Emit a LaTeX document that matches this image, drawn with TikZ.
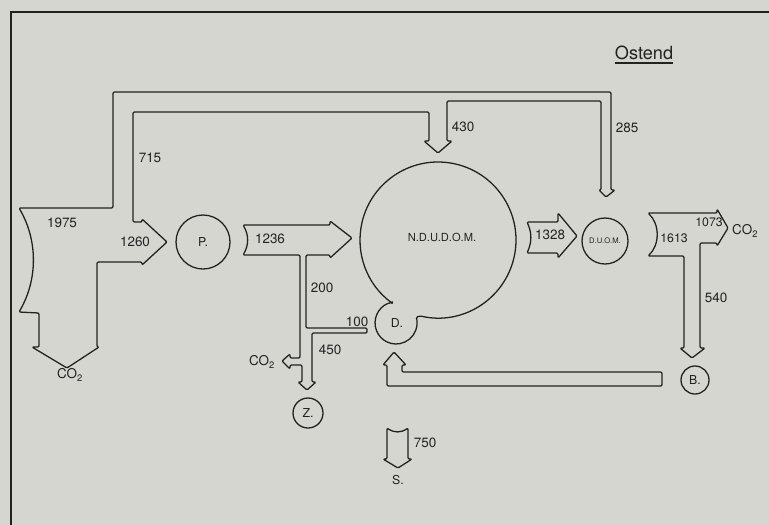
\documentclass[tikz,border=0pt]{standalone}
\usepackage{fontspec}
\setmainfont{TeX Gyre Heros}
\usetikzlibrary{positioning}
\definecolor{paper}{RGB}{214,214,208}
\definecolor{ink}{RGB}{34,34,34}

\begin{document}
\begin{tikzpicture}[x=0.03cm, y=-0.03cm,
    flow/.style={draw=ink, line width=1.1pt, line join=round, rounded corners=1pt},
    lab/.style={font=\fontsize{11.5}{13}\selectfont, text=ink, inner sep=0pt},
    pool/.style={circle, draw=ink, line width=1.1pt, inner sep=0pt, text=ink, font=\fontsize{10.5}{12}\selectfont}]
    % page, frame and site name
    \useasboundingbox (0,0) rectangle (769,524);
    \fill[paper] (-20,-20) rectangle (790,545);
    \draw[ink, line width=2.4pt] (11,545) -- (11,12) -- (790,12);
    \node[lab, font=\fontsize{15.5}{17}\selectfont] (title) at (644,53) {Ostend};
    \draw[ink, line width=1.3pt] ([yshift=-2.5pt]title.south west) -- ([yshift=-2.5pt]title.south east);
    % intake 1975: on to P., down to CO2, and the 715 loop over the top
    \draw[flow] (19,312) .. controls (38,280) and (38,240) .. (19,208)
      -- (113,208) -- (113,92) -- (611,92) -- (611,190) -- (615,190) -- (606,197)
      -- (599,190) -- (601,190) -- (601,101) -- (447,101) -- (447,141) -- (452,141)
      -- (438,153) -- (424,141) -- (429,141) -- (429,112) -- (133,112) -- (133,222)
      -- (142,222) -- (142,219) -- (167,242) -- (142,265) -- (142,262) -- (97,262)
      -- (97,347) -- (99,347) -- (67,368) -- (32,347) -- (39,347) -- (39,313) -- cycle;
    % 1236 into N.D.U.D.O.M., branch down to Z. and CO2
    \draw[flow] (243,255) .. controls (249,245) and (249,235) .. (243,225)
      -- (330,225) -- (330,221) -- (352,238) -- (330,258) -- (330,255) -- (306,255)
      -- (306,328) -- (367,328) -- (367,333) -- (312,333) -- (312,382) -- (316,382)
      -- (307,390) -- (298,382) -- (302,382) -- (302,365) -- (290,365) -- (290,369)
      -- (282,361) -- (290,354) -- (290,358) -- (300,358) -- (300,255) -- cycle;
    % N.D.U.D.O.M. with D. hanging below
    \draw[flow] (420.45,316) arc[start angle=103, end angle=-234, radius=78]
      -- (392.4,302.3) arc[start angle=-100, end angle=-376, radius=21] -- cycle;
    % 1328 and 1613
    \draw[flow] (527,253) .. controls (532,242) and (532,233) .. (527,222)
      -- (558,222) -- (558,213) -- (577,236) -- (558,258) -- (558,253) -- cycle;
    \draw[flow] (648,256) .. controls (660,245) and (660,224) .. (648,213)
      -- (717,213) -- (717,209) -- (728,228) -- (717,246) -- (717,243) -- (700,243)
      -- (700,348) -- (705,348) -- (692,358) -- (680,348) -- (684,348) -- (684,256) -- cycle;
    % back from B. to D., and down to S.
    \draw[flow] (662,372) -- (402,372) -- (402,365) -- (406,365) -- (394,352)
      -- (383,365) -- (387,365) -- (387,386) -- (662,386) -- cycle;
    \draw[flow] (387,428) .. controls (394,433) and (401,433) .. (408,428)
      -- (408,459) -- (412,459) -- (398,468) -- (383,459) -- (387,459) -- cycle;
    % compartments
    \node[pool, minimum size=1.62cm] (P) at (203,242) {P.};
    \node[pool, minimum size=1.38cm, font=\fontsize{6.5}{8}\selectfont] (duom) at (605,241) {D.U.O.M.};
    \node[pool, minimum size=0.9cm] (Z) at (308,413) {Z.};
    \node[pool, minimum size=0.84cm] (B) at (695,380) {B.};
    \node[lab, font=\fontsize{9.5}{11}\selectfont] (ndudom) at (442,237) {N.D.U.D.O.M.};
    \node[lab, font=\fontsize{10.5}{12}\selectfont] (D) at (397,323) {D.};
    \node[lab, font=\fontsize{10.5}{12}\selectfont] (S) at (398,480) {S.};
    % flow values
    \foreach \t/\px/\py in {1975/62/223, 1260/135/242, 715/150/158, 1236/270/239,
        200/322/288, 100/357/322, 450/330/350, 430/463/127, 285/627/128,
        1328/550/235, 540/716/298, 750/425/443}
      \node[lab] (v\t) at (\px,\py) {\t};
    \node[lab, font=\fontsize{10.5}{12}\selectfont] (v1613) at (674,238) {1613};
    \node[lab, font=\fontsize{10.5}{12}\selectfont] (v1073) at (709,222) {1073};
    \node[lab] (co2a) at (70,375) {CO\textsubscript{2}};
    \node[lab] (co2b) at (262,362) {CO\textsubscript{2}};
    \node[lab, anchor=west] (co2c) at (732,231) {CO\textsubscript{2}};
  \end{tikzpicture}
\end{document}
